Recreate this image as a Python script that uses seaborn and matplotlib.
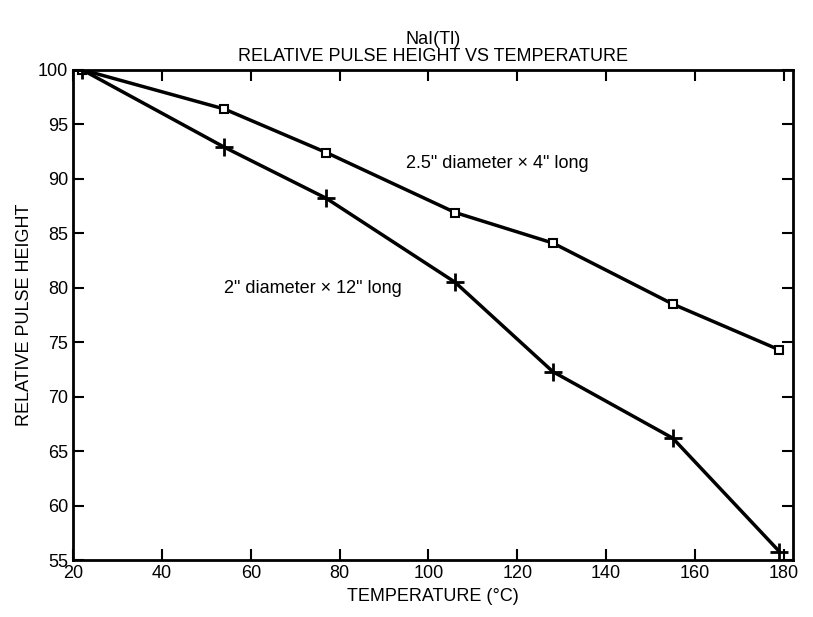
import matplotlib
matplotlib.use("Agg")
import matplotlib.pyplot as plt
import seaborn as sns
import pandas as pd

temps = [22, 54, 77, 106, 128, 155, 179]
height_short = [100, 96.4, 92.4, 86.9, 84.1, 78.5, 74.3]
height_long = [100, 92.9, 88.2, 80.5, 72.3, 66.2, 55.8]

sns.set_style("ticks")
plt.rcParams['font.family'] = ['Liberation Sans', 'DejaVu Sans']
plt.rcParams['text.color'] = 'black'
plt.rcParams['axes.labelcolor'] = 'black'
plt.rcParams['xtick.color'] = 'black'
plt.rcParams['ytick.color'] = 'black'

df = pd.DataFrame({'T': temps, 'short': height_short, 'long': height_long})

fig = plt.figure(figsize=(8.13, 6.17), dpi=100)
ax = fig.add_axes([0.09, 0.092, 0.885, 0.795])
sns.lineplot(x='T', y='short', data=df, ax=ax, color='black', lw=2.5,
             marker='s', markersize=6, markerfacecolor='white', markeredgecolor='black', markeredgewidth=1.5)
sns.lineplot(x='T', y='long', data=df, ax=ax, color='black', lw=2.5,
             marker='+', markersize=13, markeredgecolor='black', markeredgewidth=2)

ax.set_xlim(20, 182)
ax.set_ylim(55, 100)
ax.set_xticks(range(20, 181, 20))
ax.set_yticks(range(55, 101, 5))
ax.tick_params(direction='in', length=8, width=1.5, labelsize=13, top=True, right=True)
for s in ax.spines.values():
    s.set_linewidth(2)
    s.set_color('black')
ax.set_xlabel('TEMPERATURE (°C)', fontsize=13)
ax.set_ylabel('RELATIVE PULSE HEIGHT', fontsize=13)
ax.set_title('NaI(Tl)\nRELATIVE PULSE HEIGHT VS TEMPERATURE', fontsize=13, linespacing=1.0)
ax.text(95, 91, '2.5" diameter × 4" long', fontsize=13)
ax.text(54, 79.5, '2" diameter × 12" long', fontsize=13)

fig.savefig('out.png', dpi=100)
